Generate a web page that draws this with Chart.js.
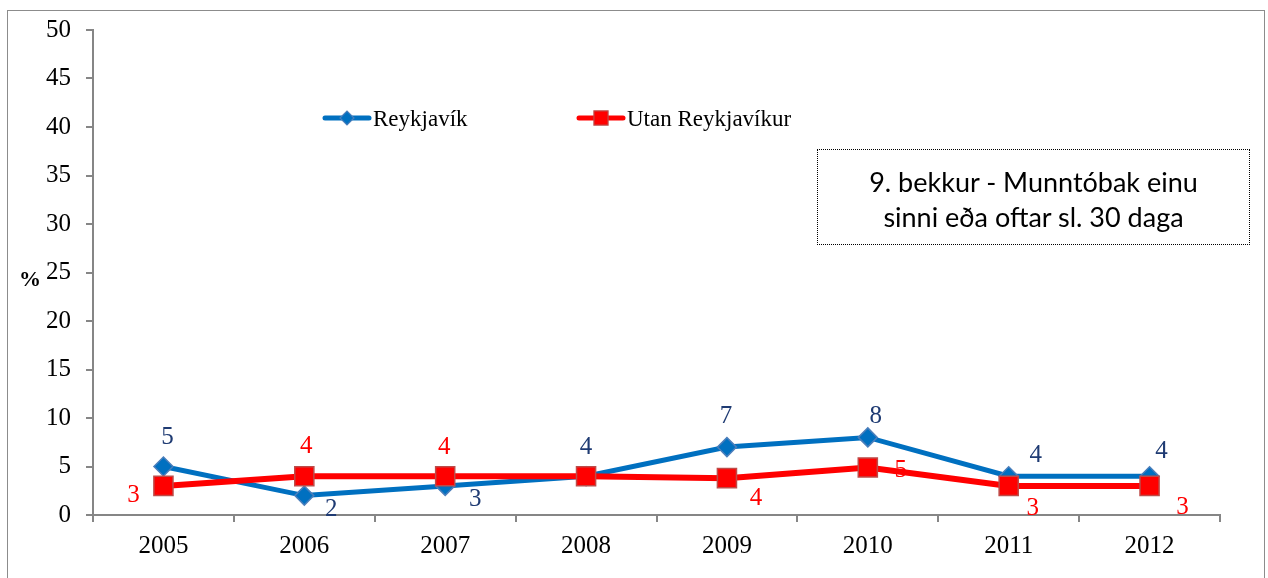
<!DOCTYPE html>
<html>
<head>
<meta charset="utf-8">
<script src="https://cdn.jsdelivr.net/npm/chart.js@4"></script>
<style>
body { margin: 0; background: #fff; }
#wrap { position: relative; width: 1268px; height: 578px; overflow: hidden; }
#frame { position: absolute; left: 7px; top: 10px; width: 1256px; height: 620px; border: 1.5px solid #8c8c8c; }
#c { position: absolute; left: 0; top: 0; }
#pct { position: absolute; left: 19px; top: 266px; font: bold 22px "Liberation Serif", "Times New Roman", serif; }
#note {
    position: absolute; left: 817px; top: 149px; width: 433px; height: 96px;
    box-sizing: border-box; border: 1px dotted #000; padding-top: 14px;
    font: 27px Lato; line-height: 35px; text-align: center; color: #000;
}
</style>
</head>
<body>
<div id="wrap">
    <div id="frame"></div>
    <canvas id="c" width="1268" height="578"></canvas>
    <div id="pct">%</div>
    <div id="note">9. bekkur - Munntóbak einu<br>sinni eða oftar sl. 30 daga</div>
</div>
<script>
const years = ['2005', '2006', '2007', '2008', '2009', '2010', '2011', '2012'];
const reykjavik = [5, 2, 3, 4, 7, 8, 4, 4];
const utan = [3, 4, 4, 4, 3.8, 4.9, 3, 3];
const reykjavikLabels = ['5', '2', '3', '4', '7', '8', '4', '4'];
const utanLabels = ['3', '4', '4', '', '4', '5', '3', '3'];
const yTicks = [0, 5, 10, 15, 20, 25, 30, 35, 40, 45, 50];

// where each value label sits relative to its point
const reykjavikOffsets = [[4, -31], [27, 12], [30, 12], [0, -31], [-1, -33], [8, -23], [27, -23], [12, -27]];
const utanOffsets = [[-30, 8], [2, -32], [-1, -31], [0, 0], [29, 18], [33, 1], [24, 21], [33, 20]];

const BLUE = '#0070C0';
const RED = '#FF0000';
const NAVY = '#1F3B73';
const AXIS = '#868686';
const SERIF = '"Liberation Serif", "Times New Roman", serif';

// draws the value labels next to the points
const valueLabels = {
    id: 'valueLabels',
    afterDatasetsDraw(chart) {
        const ctx = chart.ctx;
        ctx.save();
        ctx.font = '25px ' + SERIF;
        ctx.textAlign = 'center';
        ctx.textBaseline = 'alphabetic';
        const sets = [
            { idx: 0, labels: reykjavikLabels, offsets: reykjavikOffsets, color: NAVY },
            { idx: 1, labels: utanLabels, offsets: utanOffsets, color: RED }
        ];
        sets.forEach(s => {
            const meta = chart.getDatasetMeta(s.idx);
            meta.data.forEach((pt, i) => {
                if (!s.labels[i]) return;
                ctx.fillStyle = s.color;
                ctx.fillText(s.labels[i], pt.x + s.offsets[i][0], pt.y + s.offsets[i][1] + 8.5);
            });
        });
        ctx.restore();
    }
};

// legend drawn inside the plot like the original
const insideLegend = {
    id: 'insideLegend',
    afterDraw(chart) {
        const ctx = chart.ctx;
        const items = [{ idx: 0, x: 325, y: 118 }, { idx: 1, x: 579, y: 118 }];
        ctx.save();
        items.forEach(it => {
            const ds = chart.data.datasets[it.idx];
            ctx.strokeStyle = ds.borderColor;
            ctx.lineWidth = 5;
            ctx.lineCap = 'round';
            ctx.beginPath();
            ctx.moveTo(it.x, it.y);
            ctx.lineTo(it.x + 44, it.y);
            ctx.stroke();
            ctx.fillStyle = ds.pointBackgroundColor;
            ctx.strokeStyle = ds.pointBorderColor;
            ctx.lineWidth = 1.2;
            Chart.helpers.drawPoint(ctx, {
                pointStyle: ds.pointStyle, radius: it.idx === 0 ? 7 : 10, rotation: 0, borderWidth: 1.2
            }, it.x + 22, it.y);
            ctx.fillStyle = '#000';
            ctx.font = '23px ' + SERIF;
            ctx.textAlign = 'left';
            ctx.textBaseline = 'middle';
            ctx.fillText(ds.label, it.x + 48, it.y + 2);
        });
        ctx.restore();
    }
};

new Chart(document.getElementById('c'), {
    type: 'line',
    data: {
        labels: years,
        datasets: [{
            label: 'Reykjavík',
            data: reykjavik,
            borderColor: BLUE,
            borderWidth: 5,
            pointStyle: 'rectRot',
            pointRadius: 9.5,
            pointBackgroundColor: BLUE,
            pointBorderColor: '#4A7EBB',
            pointBorderWidth: 1.5,
            tension: 0,
            order: 1
        }, {
            label: 'Utan Reykjavíkur',
            data: utan,
            borderColor: RED,
            borderWidth: 6,
            pointStyle: 'rect',
            pointRadius: 13.5,
            pointBackgroundColor: RED,
            pointBorderColor: '#BE4B48',
            pointBorderWidth: 1.5,
            tension: 0,
            order: 0
        }]
    },
    options: {
        responsive: false,
        animation: false,
        events: [],
        layout: { padding: { left: 0, top: 29, right: 48, bottom: 0 } },
        plugins: { legend: { display: false }, tooltip: { enabled: false } },
        scales: {
            x: {
                offset: true,
                grid: { offset: true, drawOnChartArea: false, drawTicks: true, tickLength: 7, color: AXIS, lineWidth: 2 },
                border: { color: AXIS, width: 2 },
                ticks: { color: '#000', font: { family: SERIF, size: 25 }, padding: 9, maxRotation: 0 },
                afterFit(scale) { scale.height = 63; }
            },
            y: {
                min: 0,
                max: 50,
                afterBuildTicks(scale) { scale.ticks = yTicks.map(v => ({ value: v })); },
                grid: { drawOnChartArea: false, drawTicks: true, tickLength: 7, color: AXIS, lineWidth: 2 },
                border: { color: AXIS, width: 2 },
                ticks: { color: '#000', font: { family: SERIF, size: 25 }, padding: 15 },
                afterFit(scale) { scale.width = 93; }
            }
        }
    },
    plugins: [valueLabels, insideLegend]
});
</script>
</body>
</html>
